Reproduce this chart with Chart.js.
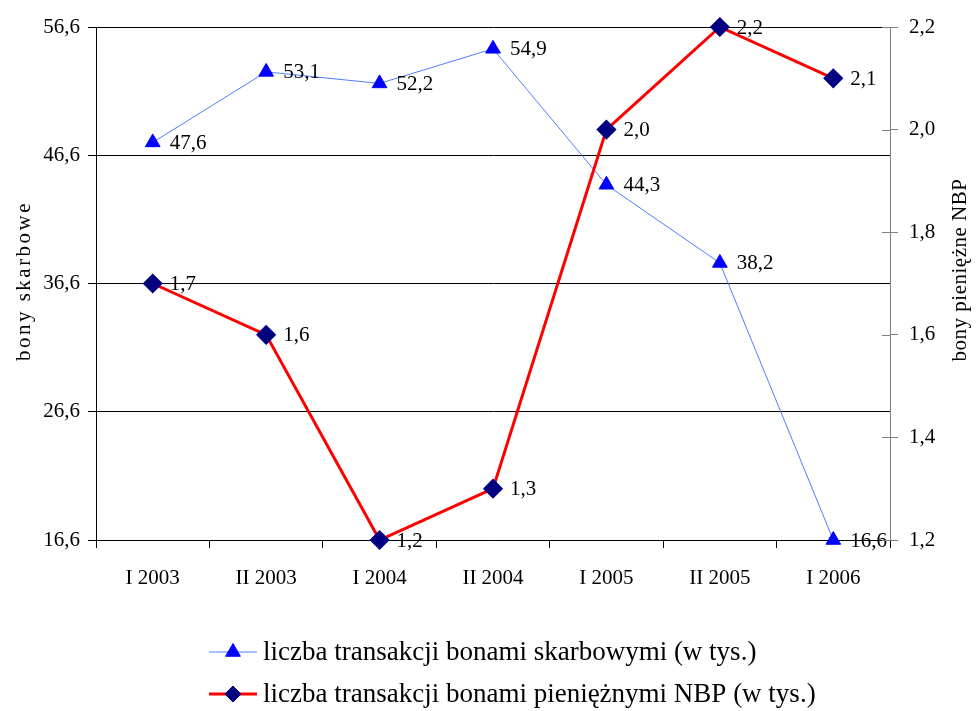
<!DOCTYPE html>
<html>
<head>
<meta charset="utf-8">
<script src="https://cdn.jsdelivr.net/npm/chart.js@4/dist/chart.umd.min.js"></script>
<style>
  html, body { margin: 0; padding: 0; background: #fff; }
  #wrap { width: 976px; height: 711px; position: relative; }
</style>
</head>
<body>
<div id="wrap"><canvas id="chart"></canvas></div>
<script>
// półrocza
var labels = ['I 2003', 'II 2003', 'I 2004', 'II 2004', 'I 2005', 'II 2005', 'I 2006'];
// liczba transakcji bonami skarbowymi (w tys.)
var bonySkarbowe = [47.6, 53.1, 52.2, 54.9, 44.3, 38.2, 16.6];
// liczba transakcji bonami pieniężnymi NBP (w tys.)
var bonyNBP = [1.7, 1.6, 1.2, 1.3, 2.0, 2.2, 2.1];

var leftTicks = [16.6, 26.6, 36.6, 46.6, 56.6];
var rightTicks = [1.2, 1.4, 1.6, 1.8, 2.0, 2.2];

var serif = '"Liberation Serif", "Times New Roman", serif';

function fmt(v) {
    return Number(v).toFixed(1).replace('.', ',');
}

// etykiety wartości obok punktów
var valueLabels = {
    id: 'valueLabels',
    afterDatasetsDraw: function(chart) {
        var ctx = chart.ctx;
        ctx.save();
        ctx.font = '21px ' + serif;
        ctx.fillStyle = '#000';
        ctx.textAlign = 'left';
        ctx.textBaseline = 'middle';
        chart.data.datasets.forEach(function(ds, i) {
            var meta = chart.getDatasetMeta(i);
            meta.data.forEach(function(pt, j) {
                ctx.fillText(fmt(ds.data[j]), pt.x + 17, pt.y + 1);
            });
        });
        ctx.restore();
    }
};

// tytuły osi (oba czytane od dołu) + znaczniki prawej osi na krzyż
var axisExtras = {
    id: 'axisExtras',
    afterDraw: function(chart) {
        var ctx = chart.ctx;
        var y2 = chart.scales.y2;
        var x = chart.chartArea.right;
        ctx.save();
        ctx.strokeStyle = '#808080';
        ctx.lineWidth = 1;
        y2.ticks.forEach(function(t) {
            var y = Math.round(y2.getPixelForValue(t.value)) + 0.5;
            ctx.beginPath();
            ctx.moveTo(x - 8, y);
            ctx.lineTo(x, y);
            ctx.stroke();
        });
        ctx.fillStyle = '#000';
        ctx.textAlign = 'center';
        ctx.textBaseline = 'middle';

        ctx.save();
        ctx.translate(24, 281);
        ctx.rotate(-Math.PI / 2);
        ctx.font = '21px ' + serif;
        ctx.letterSpacing = '2.5px';
        ctx.fillText('bony skarbowe', 0, 0);
        ctx.restore();

        ctx.save();
        ctx.translate(960, 270);
        ctx.rotate(-Math.PI / 2);
        ctx.font = '21px ' + serif;
        ctx.letterSpacing = '0.5px';
        ctx.fillText('bony pieniężne NBP', 0, 0);
        ctx.restore();

        ctx.restore();
    }
};

// legenda pod wykresem, z linią i znacznikiem
var bottomLegend = {
    id: 'bottomLegend',
    afterDraw: function(chart) {
        var ctx = chart.ctx;
        var rows = [652, 694];
        ctx.save();
        chart.data.datasets.forEach(function(ds, i) {
            var y = rows[i];
            ctx.strokeStyle = ds.borderColor;
            ctx.lineWidth = ds.borderWidth;
            ctx.beginPath();
            ctx.moveTo(209, y);
            ctx.lineTo(257, y);
            ctx.stroke();
            ctx.fillStyle = ds.pointBackgroundColor;
            ctx.strokeStyle = ds.pointBorderColor;
            ctx.lineWidth = 1;
            Chart.helpers.drawPoint(ctx, {
                pointStyle: ds.pointStyle,
                radius: ds.pointRadius,
                rotation: 0,
                borderWidth: 1
            }, 233, y);
            ctx.font = '27px ' + serif;
            ctx.fillStyle = '#000';
            ctx.textAlign = 'left';
            ctx.textBaseline = 'middle';
            ctx.fillText(ds.label, 263, y + 1);
        });
        ctx.restore();
    }
};

var ctx = document.getElementById('chart').getContext('2d');
var chart = new Chart(ctx, {
    type: 'line',
    data: {
        labels: labels,
        datasets: [{
            label: 'liczba transakcji bonami skarbowymi (w tys.)',
            data: bonySkarbowe,
            yAxisID: 'y',
            order: 2,
            clip: false,
            borderColor: '#4f7dff',
            borderWidth: 1,
            pointStyle: 'triangle',
            pointRadius: 8.5,
            pointHoverRadius: 8.5,
            pointBackgroundColor: '#0000ff',
            pointBorderColor: '#0000ff',
            tension: 0
        }, {
            label: 'liczba transakcji bonami pieniężnymi NBP (w tys.)',
            data: bonyNBP,
            yAxisID: 'y2',
            order: 1,
            clip: false,
            borderColor: '#ff0000',
            borderWidth: 3,
            pointStyle: 'rectRot',
            pointRadius: 8,
            pointHoverRadius: 8,
            pointBackgroundColor: '#000080',
            pointBorderColor: '#000080',
            tension: 0
        }]
    },
    options: {
        responsive: true,
        maintainAspectRatio: false,
        animation: false,
        events: [],
        layout: { padding: { top: 27, left: 0, right: 0, bottom: 0 } },
        plugins: {
            legend: { display: false },
            tooltip: { enabled: false }
        },
        scales: {
            x: {
                type: 'category',
                offset: true,
                afterFit: function(scale) { scale.height = 171; },
                grid: {
                    offset: true,
                    drawOnChartArea: false,
                    drawTicks: true,
                    tickLength: 8,
                    color: '#000'
                },
                border: { color: '#000', width: 1 },
                ticks: {
                    color: '#000',
                    font: { family: serif, size: 21 },
                    padding: 18,
                    maxRotation: 0
                }
            },
            y: {
                position: 'left',
                min: 16.6,
                max: 56.6,
                afterFit: function(scale) { scale.width = 96; },
                afterBuildTicks: function(scale) {
                    scale.ticks = leftTicks.map(function(v) { return { value: v }; });
                },
                grid: {
                    color: '#000',
                    tickLength: 8,
                    drawTicks: true
                },
                border: { color: '#000', width: 1 },
                ticks: {
                    color: '#000',
                    font: { family: serif, size: 21 },
                    padding: 8,
                    callback: function(v) { return fmt(v); }
                }
            },
            y2: {
                position: 'right',
                min: 1.2,
                max: 2.2,
                afterFit: function(scale) { scale.width = 86; },
                afterBuildTicks: function(scale) {
                    scale.ticks = rightTicks.map(function(v) { return { value: v }; });
                },
                grid: {
                    drawOnChartArea: false,
                    color: '#808080',
                    tickLength: 8
                },
                border: { color: '#808080', width: 1 },
                ticks: {
                    color: '#000',
                    font: { family: serif, size: 21 },
                    padding: 11,
                    callback: function(v) { return fmt(v); }
                }
            }
        }
    },
    plugins: [valueLabels, axisExtras, bottomLegend]
});
</script>
</body>
</html>
